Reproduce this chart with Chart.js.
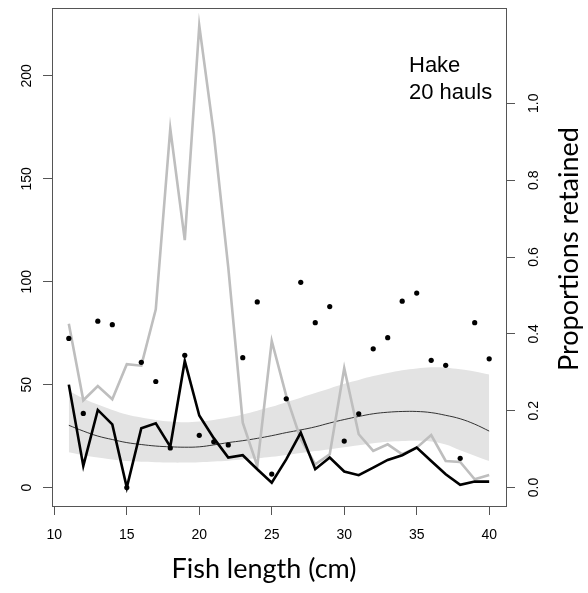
<!DOCTYPE html>
<html>
<head>
<meta charset="utf-8">
<script src="https://cdn.jsdelivr.net/npm/chart.js@4.4.1/dist/chart.umd.min.js"></script>
<style>
  html, body { margin: 0; padding: 0; background: #fff; }
  #wrap { width: 588px; height: 593px; }
</style>
</head>
<body>
<div id="wrap"><canvas id="chart"></canvas></div>
<script>
// fish length classes (cm)
const lengths = [11, 12, 13, 14, 15, 16, 17, 18, 19, 20, 21, 22, 23, 24, 25,
                 26, 27, 28, 29, 30, 31, 32, 33, 34, 35, 36, 37, 38, 39, 40];

// numbers at length, left axis
const greyCounts = [79.6, 42.4, 49.3, 42.9, 59.9, 59.2, 86.6, 174.3, 120.2, 224.4,
                    172, 107, 31.5, 10.5, 71.2, 44.5, 23.5, 11.3, 16.2, 58,
                    25.9, 17.8, 21, 16.2, 19.4, 25.5, 12.9, 12.4, 4, 6.1];
const blackCounts = [50, 10.5, 37.7, 30.7, 0, 28.8, 31.2, 19.9, 61.5, 35,
                     24, 14.6, 15.7, 8.9, 2.4, 13.7, 26.7, 8.9, 14.6, 7.8,
                     6, 9.7, 13.4, 15.7, 19.4, 12.9, 6.5, 1.3, 2.9, 2.9];

// observed proportions retained, right axis
const propObs = [0.388, 0.193, 0.433, 0.424, 0, 0.326, 0.276, 0.103, 0.344, 0.136,
                 0.119, 0.111, 0.338, 0.483, 0.035, 0.231, 0.534, 0.429, 0.471, 0.121,
                 0.192, 0.361, 0.390, 0.485, 0.506, 0.331, 0.318, 0.076, 0.429, 0.335];

// fitted curve and confidence band, right axis
const fitMid = [0.162, 0.147, 0.134, 0.125, 0.117, 0.112, 0.108, 0.106, 0.105, 0.106,
                0.111, 0.117, 0.122, 0.128, 0.135, 0.143, 0.150, 0.158, 0.168, 0.177,
                0.185, 0.192, 0.196, 0.198, 0.198, 0.195, 0.188, 0.179, 0.165, 0.147];
const fitUpper = [0.251, 0.232, 0.216, 0.202, 0.190, 0.182, 0.176, 0.172, 0.170, 0.172,
                  0.176, 0.182, 0.190, 0.200, 0.210, 0.222, 0.234, 0.246, 0.258, 0.270,
                  0.280, 0.290, 0.298, 0.305, 0.310, 0.313, 0.312, 0.308, 0.302, 0.294];
const fitLower = [0.092, 0.084, 0.078, 0.073, 0.069, 0.067, 0.066, 0.065, 0.065, 0.066,
                  0.068, 0.070, 0.073, 0.076, 0.080, 0.085, 0.090, 0.095, 0.100, 0.105,
                  0.110, 0.115, 0.119, 0.121, 0.122, 0.120, 0.112, 0.097, 0.083, 0.069];

// tick labels
const xTicks = [10, 15, 20, 25, 30, 35, 40];
const countTicks = [0, 50, 100, 150, 200];
const propTicks = [0, 0.2, 0.4, 0.6, 0.8, 1.0];

const xy = arr => lengths.map((l, i) => ({ x: l, y: arr[i] }));
const AXIS_COL = '#555555';
const TICK_FONT = '14px "Liberation Sans", Arial, sans-serif';

// draws the box, rotated y tick labels, axis titles and the legend note
const decorations = {
    id: 'decorations',
    afterDraw(chart) {
        const { ctx, chartArea: a, scales } = chart;
        ctx.save();
        ctx.strokeStyle = AXIS_COL;
        ctx.lineWidth = 1;
        ctx.strokeRect(a.left + 0.5, a.top + 0.5, a.right - a.left, a.bottom - a.top);

        ctx.fillStyle = '#000';
        ctx.font = TICK_FONT;
        ctx.textAlign = 'center';
        ctx.textBaseline = 'middle';
        countTicks.forEach(v => {
            ctx.save();
            ctx.translate(a.left - 25, scales.y.getPixelForValue(v));
            ctx.rotate(-Math.PI / 2);
            ctx.fillText(String(v), 0, 0);
            ctx.restore();
        });
        propTicks.forEach(v => {
            ctx.save();
            ctx.translate(a.right + 28, scales.y2.getPixelForValue(v));
            ctx.rotate(-Math.PI / 2);
            ctx.fillText(v.toFixed(1), 0, 0);
            ctx.restore();
        });

        // axis titles
        ctx.font = '27px Lato, "Open Sans", sans-serif';
        ctx.textBaseline = 'alphabetic';
        ctx.fillText('Fish length (cm)', 264, 578);
        ctx.save();
        ctx.translate(578, 249);
        ctx.rotate(-Math.PI / 2);
        ctx.fillText('Proportions retained', 0, 0);
        ctx.restore();

        // species note
        ctx.font = '22px "Liberation Sans", Arial, sans-serif';
        ctx.textAlign = 'left';
        ctx.fillText('Hake', 409, 72);
        ctx.fillText('20 hauls', 409, 99);
        ctx.restore();
    }
};

new Chart(document.getElementById('chart'), {
    type: 'line',
    data: {
        datasets: [
            {   // observed proportions
                data: xy(propObs), yAxisID: 'y2', showLine: false,
                pointRadius: 2.6, pointBackgroundColor: '#000', pointBorderWidth: 0,
                order: 1
            },
            {
                data: xy(blackCounts), yAxisID: 'y',
                borderColor: '#000', borderWidth: 2.6, pointRadius: 0, tension: 0,
                order: 2
            },
            {
                data: xy(greyCounts), yAxisID: 'y',
                borderColor: '#bebebe', borderWidth: 2.6, pointRadius: 0, tension: 0,
                order: 3
            },
            {
                data: xy(fitMid), yAxisID: 'y2',
                borderColor: '#333', borderWidth: 1, pointRadius: 0, tension: 0.4,
                order: 4
            },
            {
                data: xy(fitLower), yAxisID: 'y2',
                borderWidth: 0, borderColor: 'rgba(0,0,0,0)', pointRadius: 0, tension: 0.4,
                order: 6
            },
            {
                data: xy(fitUpper), yAxisID: 'y2',
                borderWidth: 0, borderColor: 'rgba(0,0,0,0)', pointRadius: 0, tension: 0.4,
                fill: '-1', backgroundColor: '#e3e3e3',
                order: 5
            }
        ]
    },
    options: {
        responsive: true,
        maintainAspectRatio: false,
        animation: false,
        devicePixelRatio: 1,
        layout: { padding: { top: 8, left: 0, right: 0, bottom: 0 } },
        plugins: {
            legend: { display: false },
            tooltip: { enabled: false },
            filler: { propagate: false }
        },
        scales: {
            x: {
                type: 'linear',
                min: 9.84, max: 41.16,
                afterBuildTicks: s => { s.ticks = xTicks.map(v => ({ value: v })); },
                afterFit: s => { s.height = 87; },
                grid: { drawOnChartArea: false, tickLength: 9, color: AXIS_COL },
                border: { display: false },
                ticks: {
                    padding: 12,
                    color: '#000',
                    font: { family: '"Liberation Sans", Arial, sans-serif', size: 14 },
                    maxRotation: 0
                }
            },
            y: {
                position: 'left',
                min: -8.96, max: 232.96,
                afterBuildTicks: s => { s.ticks = countTicks.map(v => ({ value: v })); },
                afterFit: s => { s.width = 52; },
                grid: { drawOnChartArea: false, tickLength: 9, color: AXIS_COL },
                border: { display: false },
                ticks: { display: false }
            },
            y2: {
                position: 'right',
                min: -0.048, max: 1.248,
                afterBuildTicks: s => { s.ticks = propTicks.map(v => ({ value: v })); },
                afterFit: s => { s.width = 82; },
                grid: { drawOnChartArea: false, tickLength: 9, color: AXIS_COL },
                border: { display: false },
                ticks: { display: false }
            }
        }
    },
    plugins: [decorations]
});
</script>
</body>
</html>
